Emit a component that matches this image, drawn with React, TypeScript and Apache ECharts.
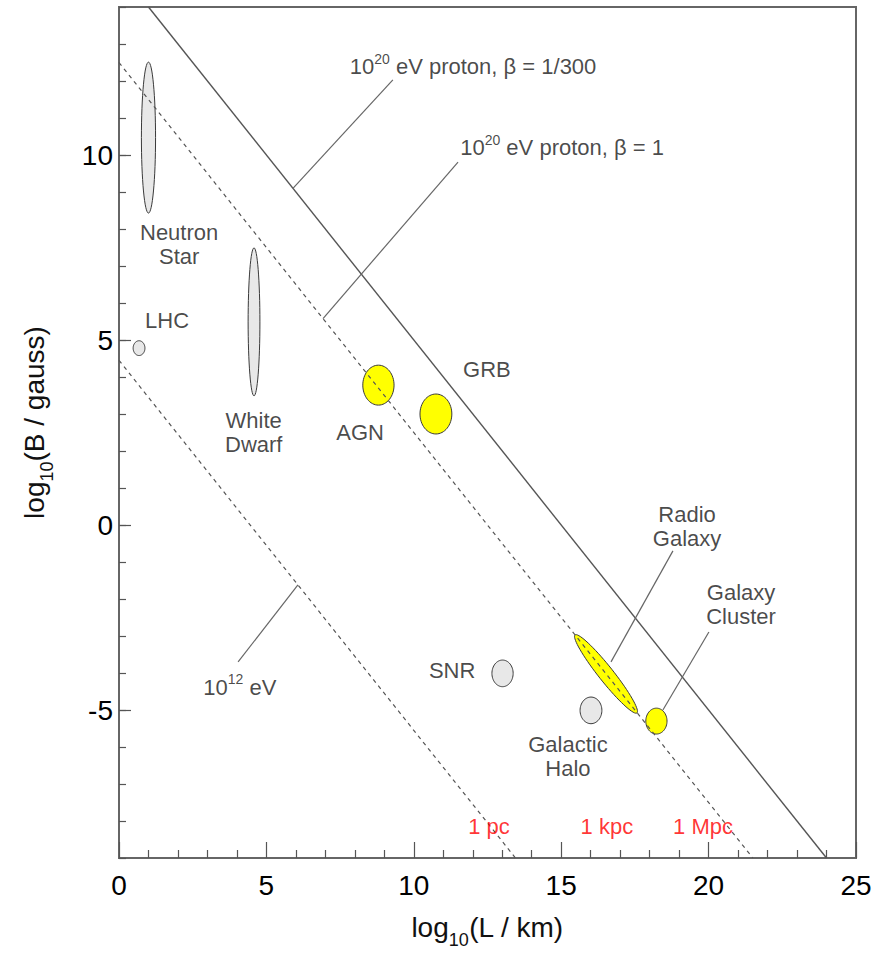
import React, { useEffect, useRef } from 'react';
import * as echarts from 'echarts';

// ---- axes ----
const xMin = 0;
const xMax = 25;
const yMin = -9;
const yMax = 14;
const yMajorTicks = [-5, 0, 5, 10];

// ---- source regions (ellipses, data units) ----
const blobNames = ['Neutron Star', 'LHC', 'White Dwarf', 'AGN a', 'AGN b', 'SNR', 'Galactic Halo', 'Galaxy Cluster'];
const blobCenterX = [1.0, 0.68, 4.58, 8.8, 10.75, 13.01, 16.01, 18.23];
const blobCenterY = [10.47, 4.78, 5.49, 3.78, 3.0, -4.01, -5.01, -5.3];
const blobHalfX = [0.24, 0.2, 0.2, 0.53, 0.54, 0.36, 0.37, 0.36];
const blobHalfY = [2.04, 0.2, 2.0, 0.54, 0.54, 0.36, 0.36, 0.35];
const blobYellow = [0, 0, 0, 1, 1, 0, 0, 1];

// Radio galaxy: tilted ellipse between two ends, half width in log B units
const radioGalaxyStart = [15.47, -2.97];
const radioGalaxyEnd = [17.57, -5.08];
const radioGalaxyHalfWidth = 0.2;

// ---- Hillas lines ----
const lineNames = ['1e20 eV proton beta 1/300', '1e20 eV proton beta 1', '1e12 eV'];
const lineStart = [[1, 14], [0, 12.5], [0, 4.45]];
const lineEnd = [[24, -9], [21.5, -9], [13.45, -9]];
const lineDashed = [false, true, true];

// ---- leader lines ----
const leaderStart = [[5.9, 9.1], [6.92, 5.58], [6.07, -1.62], [16.69, -3.7], [18.45, -5.0]];
const leaderEnd = [[9.29, 12.03], [11.5, 9.81], [4.04, -3.7], [18.79, -0.7], [20.01, -2.89]];

// ---- labels ----
const labelTexts = [
  '10{sup|20} eV proton, β = 1/300',
  '10{sup|20} eV proton, β = 1',
  'Neutron\nStar',
  'LHC',
  'White\nDwarf',
  'AGN',
  'GRB',
  'Radio\nGalaxy',
  'Galaxy\nCluster',
  'SNR',
  'Galactic\nHalo',
  '10{sup|12} eV',
];
const labelX = [12.01, 15.03, 2.04, 1.63, 4.57, 8.18, 12.48, 19.27, 21.1, 11.3, 15.23, 4.1];
const labelY = [12.38, 10.19, 7.57, 5.54, 2.51, 2.51, 4.19, -0.05, -2.14, -3.92, -6.27, -4.38];

const scaleTexts = ['1 pc', '1 kpc', '1 Mpc'];
const scaleX = [12.55, 16.55, 19.81];
const scaleY = [-8.16, -8.16, -8.16];

const FONT = "'Liberation Sans', Arial, Helvetica, sans-serif";

export default function App() {
  const ref = useRef<HTMLDivElement>(null);

  useEffect(() => {
    document.body.style.margin = '0';
    if (!ref.current) return;
    const chart = echarts.init(ref.current, undefined, { renderer: 'svg' });

    const blobData = blobNames.map((n, i) => ({
      name: n,
      value: [blobCenterX[i], blobCenterY[i], blobHalfX[i], blobHalfY[i], blobYellow[i]],
    }));

    const lineSeries = lineNames.map((n, i) => ({
      name: n,
      type: 'line',
      data: [lineStart[i], lineEnd[i]],
      showSymbol: false,
      symbol: 'none',
      silent: true,
      z: 3,
      lineStyle: {
        color: '#555',
        width: lineDashed[i] ? 1.2 : 1.4,
        type: lineDashed[i] ? [4, 4] : 'solid',
      },
    }));

    const leaderSeries = leaderStart.map((s, i) => ({
      type: 'line',
      data: [s, leaderEnd[i]],
      showSymbol: false,
      symbol: 'none',
      silent: true,
      z: 3,
      lineStyle: { color: '#666', width: 1.2, type: 'solid' },
    }));

    const nameRich = {
      sub: { fontSize: 18, lineHeight: 10, verticalAlign: 'bottom', fontFamily: FONT, color: '#111' },
    };

    const option: any = {
      animation: false,
      backgroundColor: '#fff',
      grid: {
        left: 119,
        right: 23,
        top: 7,
        bottom: 100,
        show: true,
        borderColor: '#666',
        borderWidth: 2,
        backgroundColor: 'transparent',
        containLabel: false,
        outerBoundsMode: 'none',
      },
      xAxis: {
        type: 'value',
        min: xMin,
        max: xMax,
        interval: 5,
        splitLine: { show: false },
        minorSplitLine: { show: false },
        axisLine: { show: true, onZero: false, lineStyle: { color: '#666', width: 2 } },
        axisTick: { show: true, inside: true, length: 16, lineStyle: { color: '#555', width: 1.2 } },
        minorTick: { show: true, splitNumber: 5, length: 8, lineStyle: { color: '#555', width: 1.2 } },
        axisLabel: {
          fontSize: 28,
          color: '#000',
          fontFamily: FONT,
          margin: 13,
          showMinLabel: true,
          showMaxLabel: true,
        },
        name: 'log{sub|10}(L / km)',
        nameLocation: 'middle',
        nameGap: 47,
        nameMoveOverlap: false,
        nameTextStyle: {
          fontSize: 28,
          lineHeight: 44,
          color: '#111',
          fontFamily: FONT,
          rich: nameRich,
        },
      },
      yAxis: [
        {
          type: 'value',
          min: yMin,
          max: yMax,
          interval: 1,
          position: 'left',
          splitLine: { show: false },
          axisLine: { show: true, onZero: false, lineStyle: { color: '#666', width: 2 } },
          axisTick: { show: true, inside: true, length: 7, lineStyle: { color: '#555', width: 1.2 } },
          axisLabel: { show: false },
          name: 'log{sub|10}(B / gauss)',
          nameLocation: 'middle',
          nameRotate: 90,
          nameGap: 63,
          nameMoveOverlap: false,
          nameTextStyle: {
            fontSize: 28,
            lineHeight: 44,
            color: '#111',
            fontFamily: FONT,
            padding: [0, 0, 0, 20],
            rich: nameRich,
          },
        },
        {
          type: 'value',
          min: yMin,
          max: yMax,
          position: 'left',
          offset: 0,
          splitLine: { show: false },
          axisLine: { show: false, onZero: false },
          axisTick: {
            show: true,
            inside: true,
            length: 12,
            customValues: yMajorTicks,
            lineStyle: { color: '#555', width: 1.2 },
          },
          axisLabel: {
            show: true,
            customValues: yMajorTicks,
            fontSize: 28,
            color: '#000',
            fontFamily: FONT,
            margin: 6,
          },
        },
      ],
      series: [
        {
          type: 'custom',
          name: 'regions',
          coordinateSystem: 'cartesian2d',
          data: blobData,
          encode: { x: 0, y: 1 },
          silent: true,
          z: 2,
          renderItem: (params: any, api: any) => {
            const cx = api.value(0);
            const cy = api.value(1);
            const rx = api.value(2);
            const ry = api.value(3);
            const yellow = api.value(4) === 1;
            const pts: number[][] = [];
            const N = 64;
            for (let k = 0; k < N; k++) {
              const t = (k / N) * Math.PI * 2;
              pts.push(api.coord([cx + rx * Math.cos(t), cy + ry * Math.sin(t)]));
            }
            return {
              type: 'polygon',
              shape: { points: pts },
              style: {
                fill: yellow ? '#ffff00' : '#e8e8e8',
                stroke: '#3a3a3a',
                lineWidth: 1,
              },
            };
          },
        },
        {
          type: 'custom',
          name: 'Radio Galaxy',
          coordinateSystem: 'cartesian2d',
          data: [[radioGalaxyStart[0], radioGalaxyStart[1], radioGalaxyEnd[0], radioGalaxyEnd[1], radioGalaxyHalfWidth]],
          encode: { x: [0, 2], y: [1, 3] },
          silent: true,
          z: 2,
          renderItem: (params: any, api: any) => {
            const p1 = api.coord([api.value(0), api.value(1)]);
            const p2 = api.coord([api.value(2), api.value(3)]);
            const w = api.size([0, api.value(4)])[1];
            const cx = (p1[0] + p2[0]) / 2;
            const cy = (p1[1] + p2[1]) / 2;
            const dx = (p2[0] - p1[0]) / 2;
            const dy = (p2[1] - p1[1]) / 2;
            const len = Math.hypot(dx, dy);
            const nx = (-dy / len) * w;
            const ny = (dx / len) * w;
            const pts: number[][] = [];
            const N = 72;
            for (let k = 0; k < N; k++) {
              const t = (k / N) * Math.PI * 2;
              const c = Math.cos(t);
              const s = Math.sin(t);
              pts.push([cx + c * dx + s * nx, cy + c * dy + s * ny]);
            }
            return {
              type: 'polygon',
              shape: { points: pts },
              style: { fill: '#ffff00', stroke: '#3a3a3a', lineWidth: 1 },
            };
          },
        },
        ...lineSeries,
        ...leaderSeries,
        {
          type: 'scatter',
          name: 'labels',
          symbolSize: 0,
          silent: true,
          z: 5,
          data: labelTexts.map((t, i) => ({
            name: t,
            value: [labelX[i], labelY[i]],
            label: t.indexOf('{sup|') >= 0 ? { lineHeight: 30 } : undefined,
          })),
          label: {
            show: true,
            position: 'inside',
            formatter: (p: any) => p.name,
            fontSize: 22,
            lineHeight: 24,
            color: '#1a1a1a',
            fontFamily: FONT,
            align: 'center',
            verticalAlign: 'middle',
            rich: {
              sup: { fontSize: 14, lineHeight: 10, verticalAlign: 'top', fontFamily: FONT, color: '#1a1a1a' },
            },
          },
        },
        {
          type: 'scatter',
          name: 'scales',
          symbolSize: 0,
          silent: true,
          z: 5,
          data: scaleTexts.map((t, i) => ({ name: t, value: [scaleX[i], scaleY[i]] })),
          label: {
            show: true,
            position: 'inside',
            formatter: (p: any) => p.name,
            fontSize: 22,
            color: '#ff0000',
            fontFamily: FONT,
          },
        },
      ],
    };

    chart.setOption(option);
    return () => {
      chart.dispose();
    };
  }, []);

  return <div ref={ref} style={{ width: 879, height: 958 }} />;
}
